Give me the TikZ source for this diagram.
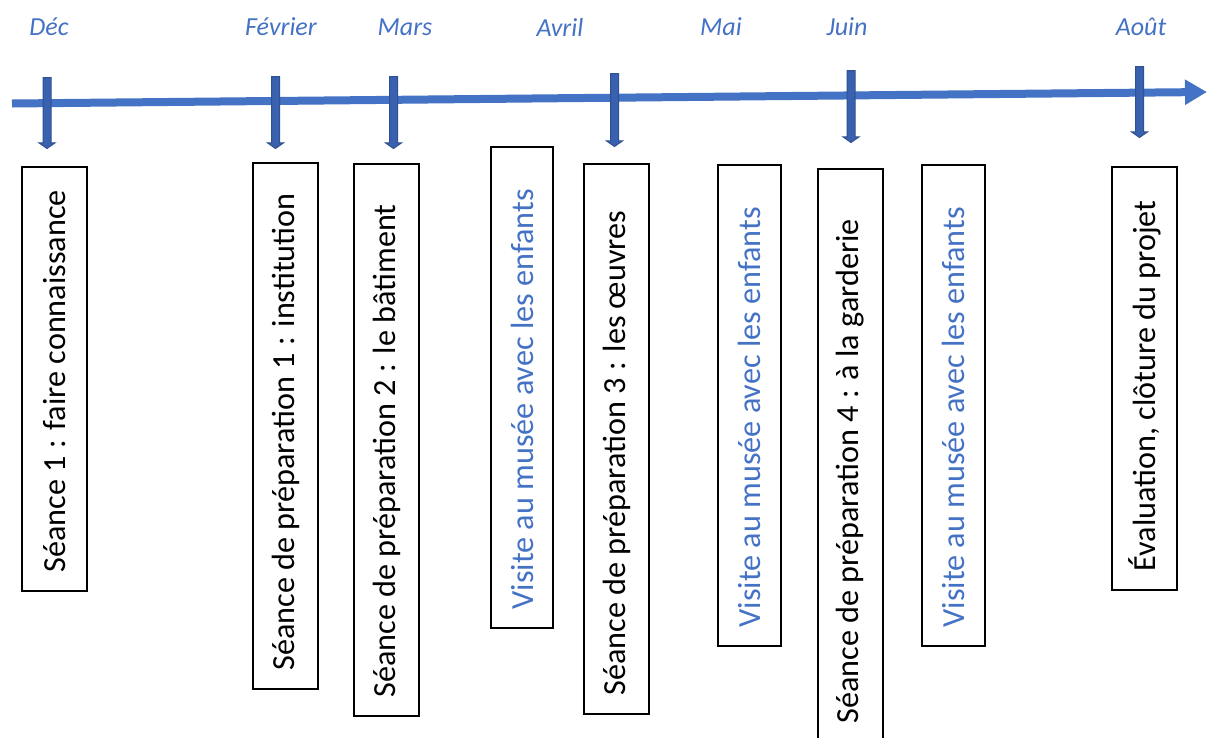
\documentclass[tikz,border=0pt]{standalone}
\usepackage{fontspec}
\setmainfont{Carlito}
\usetikzlibrary{%
    shapes,%
    arrows.meta,%
    positioning,%
    calc%
}
\definecolor{axisblue}{RGB}{68,114,196}
\definecolor{tickblue}{RGB}{47,82,143}
\definecolor{tickfill}{RGB}{58,96,176}
\tikzset{
    block/.style = {draw, rectangle, line width = 1.3pt, inner sep = 0pt},
    boxtext/.style = {rotate = 90, anchor = west, inner sep = 0pt, font = \fontsize{32.2}{37}\selectfont},
    visittext/.style = {boxtext, text = axisblue},
    month/.style = {text = axisblue, font = \fontsize{26}{30}\selectfont\itshape},
    tick/.style = {single arrow, draw = tickblue, fill = tickfill, line width = 1pt,
    rotate = -90, anchor = tail, inner sep = 3.5pt, minimum width = 15pt,
    single arrow head extend = 4pt, single arrow tip angle = 110},
    axis/.style = {draw = axisblue, line width = 8pt, -{Triangle[length=22pt, width=24pt]}}
}
\begin{document}
\begin{tikzpicture}[x=1pt, y=-1pt]
    \clip (0,0) rectangle (1208,737);
    % time line
    \coordinate (start) at (12,103.5);
    \coordinate (stop) at (1207,92);
    \draw[axis] (start) -- (stop);

    % months
    \node[month] (dec) at (49,27) {Déc};
    \node[month] (fev) at (281,27) {Février};
    \node[month] (mars) at (405,27) {Mars};
    \node[month] (avril) at (560,27) {Avril};
    \node[month] (mai) at (721,27) {Mai};
    \node[month] (juin) at (847,27) {Juin};
    \node[month] (aout) at (1141,27) {Août};

    % ticks on the time line
    \node[tick, minimum height = 71pt] (tdec) at (47,77) {};
    \node[tick, minimum height = 72pt] (tfev) at (275.5,76) {};
    \node[tick, minimum height = 72pt] (tmars) at (393.5,76) {};
    \node[tick, minimum height = 73pt] (tavril) at (614.5,73) {};
    \node[tick, minimum height = 72pt] (tjuin) at (851,70) {};
    \node[tick, minimum height = 71pt] (taout) at (1139.5,66) {};

    % boxes
    \node[block, minimum width = 65pt, minimum height = 424pt] (seance1) at (54.5,379) {};
    \node[block, minimum width = 65pt, minimum height = 526pt] (prep1) at (285.5,426) {};
    \node[block, minimum width = 65pt, minimum height = 552pt] (prep2) at (386.5,440) {};
    \node[block, minimum width = 62pt, minimum height = 481pt] (visite1) at (522,387.5) {};
    \node[block, minimum width = 65pt, minimum height = 550pt] (prep3) at (616.5,439) {};
    \node[block, minimum width = 63pt, minimum height = 481pt] (visite2) at (749.5,405.5) {};
    \node[block, minimum width = 65pt, minimum height = 573pt] (prep4) at (850.5,455.5) {};
    \node[block, minimum width = 63pt, minimum height = 481pt] (visite3) at (953.5,405.5) {};
    \node[block, minimum width = 65pt, minimum height = 423pt] (eval) at (1144.5,378.5) {};

    % texts in the boxes
    \node[boxtext] (tseance1) at ($(seance1.south)+(0,-19)$) {Séance 1 : faire connaissance};
    \node[boxtext] (tprep1) at ($(prep1.south)+(0,-19)$) {Séance de préparation 1 : institution};
    \node[boxtext] (tprep2) at ($(prep2.south)+(0,-19)$) {Séance de préparation 2 : le bâtiment};
    \node[visittext] (tvisite1) at ($(visite1.south)+(0,-19)$) {Visite au musée avec les enfants};
    \node[boxtext] (tprep3) at ($(prep3.south)+(0,-19)$) {Séance de préparation 3 : les œuvres};
    \node[visittext] (tvisite2) at ($(visite2.south)+(0,-19)$) {Visite au musée avec les enfants};
    \node[boxtext] (tprep4) at ($(prep4.south)+(0,-19)$) {Séance de préparation 4 : à la garderie};
    \node[visittext] (tvisite3) at ($(visite3.south)+(0,-19)$) {Visite au musée avec les enfants};
    \node[boxtext] (teval) at ($(eval.south)+(0,-19)$) {Évaluation, clôture du projet};
\end{tikzpicture}
\end{document}
